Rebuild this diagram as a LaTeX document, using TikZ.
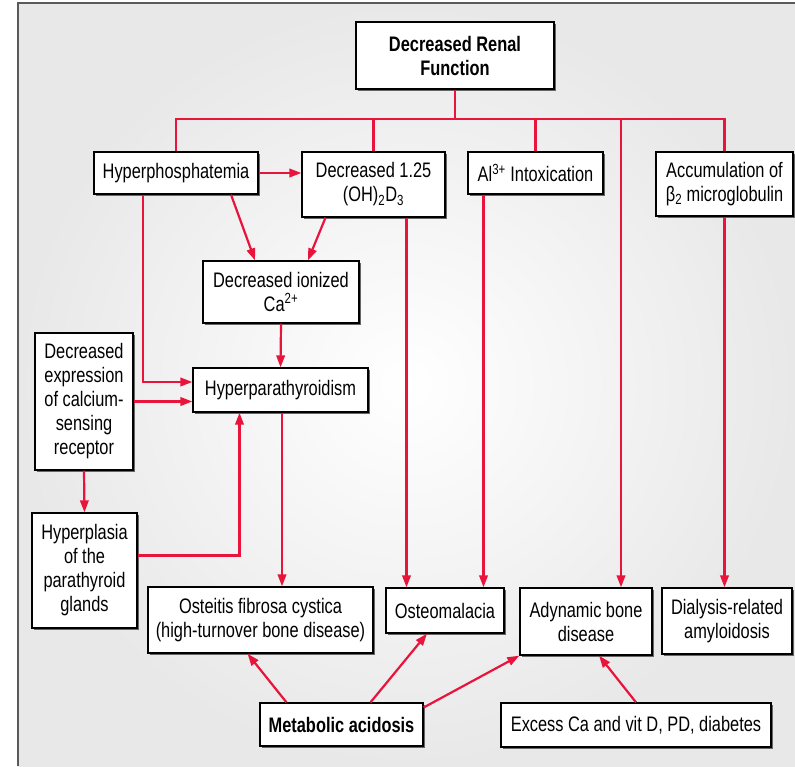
\documentclass[tikz,border=0pt]{standalone}
\usepackage{fontspec}
\setmainfont{Liberation Sans}[FakeStretch=0.78]
\usetikzlibrary{arrows.meta,shadows}
\definecolor{linkred}{RGB}{232,20,60}
\definecolor{framegray}{RGB}{90,90,90}

\begin{document}
\begin{tikzpicture}[x=1pt,y=-1pt]
\tikzstyle{box}=[draw=black, line width=1.3pt, fill=white, inner sep=0pt, align=center, font=\fontsize{21}{24}\selectfont, drop shadow={shadow xshift=2pt, shadow yshift=-2pt, fill=black!60, opacity=1}]
\tikzstyle{link}=[linkred, line width=2.2pt]
\tikzstyle{arr}=[link, -{Triangle[length=12pt,width=8.5pt]}]
\useasboundingbox (0,0) rectangle (795,766);
\shade[inner color=white, outer color=black!9] (18,3) rectangle (795,766);
\draw[framegray, line width=2pt] (18,766) -- (18,3) -- (795,3);
% top row
\node[box, font={\fontsize{21}{24}\selectfont\bfseries}, minimum width=198pt, minimum height=67pt] (renal) at (455,55.5) {Decreased Renal\\Function};
\node[box, minimum width=164pt, minimum height=42pt] (hyp) at (176,173) {Hyperphosphatemia};
\node[box, minimum width=143pt, minimum height=65pt] (vitd) at (373.5,184.5) {Decreased 1.25\\(OH)\textsubscript{2}D\textsubscript{3}};
\node[box, minimum width=135pt, minimum height=42pt] (al) at (535.5,173) {Al\textsuperscript{3+} Intoxication};
\node[box, minimum width=137pt, minimum height=64pt] (beta) at (724.5,184) {Accumulation of\\β\textsubscript{2} microglobulin};
% middle
\node[box, minimum width=156pt, minimum height=62pt] (ca) at (281,292) {Decreased ionized\\Ca\textsuperscript{2+}};
\node[box, minimum width=98pt, minimum height=137pt] (casr) at (84,401.5) {Decreased\\expression\\of calcium-\\sensing\\receptor};
\node[box, minimum width=175pt, minimum height=44pt] (hpt) at (280.5,390) {Hyperparathyroidism};
\node[box, minimum width=105pt, minimum height=115pt] (hpl) at (84.5,570.5) {Hyperplasia\\of the\\parathyroid\\glands};
% bottom row
\node[box, minimum width=225pt, minimum height=66pt] (ofc) at (260.5,620) {Osteitis fibrosa cystica\\(high-turnover bone disease)};
\node[box, minimum width=118pt, minimum height=45pt] (om) at (445,610.5) {Osteomalacia};
\node[box, minimum width=132pt, minimum height=67pt] (abd) at (586,621.5) {Adynamic bone\\disease};
\node[box, minimum width=130pt, minimum height=66pt] (dra) at (727,621) {Dialysis-related\\amyloidosis};
\node[box, font={\fontsize{21}{24}\selectfont\bfseries}, minimum width=163pt, minimum height=43pt] (ma) at (341.5,724.5) {Metabolic acidosis};
\node[box, minimum width=270pt, minimum height=44pt] (exc) at (636,725) {Excess Ca and vit D, PD, diabetes};
% bus from renal function
\coordinate (bus) at (455,119);
\draw[link] (renal.south) -- (bus);
\draw[link] (hyp.north) |- (bus) -| (beta.north);
\draw[link] (vitd.north) -- (vitd.north |- bus);
\draw[link] (al.north) -- (al.north |- bus);
\coordinate (abdtop) at ([xshift=35pt]abd.north);
\draw[arr] (abdtop |- bus) -- (abdtop);
% arrows
\draw[arr] (hyp.east) -- (hyp.east -| vitd.west);
\draw[arr] ([xshift=55pt]hyp.south) -- ([xshift=-26pt]ca.north);
\draw[arr] ([xshift=-48pt]vitd.south) -- ([xshift=27pt]ca.north);
\draw[arr] ([xshift=-33pt]hyp.south) |- ([yshift=8pt]hpt.west);
\draw[arr] (casr.east) -- (casr.east -| hpt.west);
\draw[arr] (ca.south) -- (hpt.north);
\draw[arr] (casr.south) -- (hpl.north);
\draw[arr] ([yshift=15pt]hpl.east) -| ([xshift=-41pt]hpt.south);
\draw[arr] ([xshift=1.5pt]hpt.south) -- ([xshift=1.5pt]hpt.south |- ofc.north);
\draw[arr] ([xshift=33pt]vitd.south) -- ([xshift=33pt]vitd.south |- om.north);
\draw[arr] ([xshift=-52pt]al.south) -- ([xshift=-52pt]al.south |- om.north);
\draw[arr] (beta.south) -- (beta.south |- dra.north);
\draw[arr] ([xshift=-55pt]ma.north) -- ([xshift=-13pt]ofc.south);
\draw[arr] ([xshift=29pt]ma.north) -- ([xshift=-18pt]om.south);
\draw[arr] ([yshift=17pt]ma.east) -- (abd.south west);
\draw[arr] (exc.north) -- ([xshift=13pt]abd.south);
\end{tikzpicture}
\end{document}
